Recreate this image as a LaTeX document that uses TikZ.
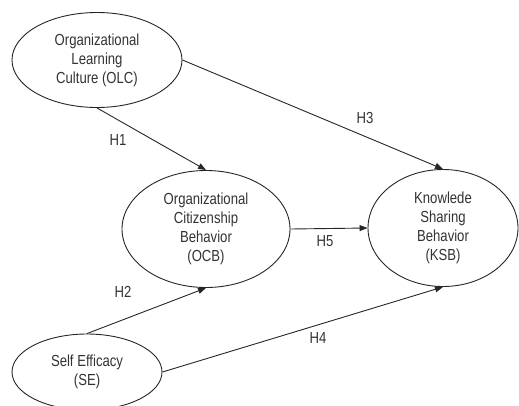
\documentclass[tikz,border=0pt]{standalone}
\usepackage{fontspec}
\setmainfont{Liberation Sans}
\newfontfamily\narrowfont[FakeStretch=0.82]{Liberation Sans}
\usetikzlibrary{shapes.geometric,arrows.meta}

\tikzset{
  construct/.style={draw=black!85,ellipse,fill=white,line width=0.9pt,inner sep=0pt,align=center,text=black!80,font=\narrowfont\fontsize{16}{19}\selectfont},
  path arrow/.style={-{Triangle[length=8pt,width=6pt]},draw=black!85,line width=0.9pt},
  hyp/.style={text=black!80,font=\narrowfont\fontsize{16}{18}\selectfont}
}

\begin{document}
\begin{tikzpicture}[x=1pt,y=-1pt]
\useasboundingbox (0,0) rectangle (519,405);

\node[construct,minimum width=170pt,minimum height=95pt](olc) at (97,60) {Organizational\\Learning\\Culture (OLC)};
\node[construct,minimum width=168pt,minimum height=117pt](ocb) at (206,229) {Organizational\\Citizenship\\Behavior\\(OCB)};
\node[construct,minimum width=150pt,minimum height=117pt](ksb) at (443,228) {Knowlede\\Sharing\\Behavior\\(KSB)};
\node[construct,minimum width=150pt,minimum height=76pt](se) at (87,372) {Self Efficacy\\(SE)};

\node[hyp](h1) at (118,140) {H1};
\node[hyp](h3) at (365,118) {H3};
\node[hyp](h5) at (325,241) {H5};
\node[hyp](h2) at (123,292) {H2};
\node[hyp](h4) at (318,338) {H4};

\draw[path arrow] (olc.south) to (ocb.north);
\draw[path arrow] (olc.east) to (ksb.north);
\draw[path arrow] (ocb.east) to (ksb.west);
\draw[path arrow] (se.north) to (ocb.south);
\draw[path arrow] (se.east) to (ksb.south);

\end{tikzpicture}
\end{document}
